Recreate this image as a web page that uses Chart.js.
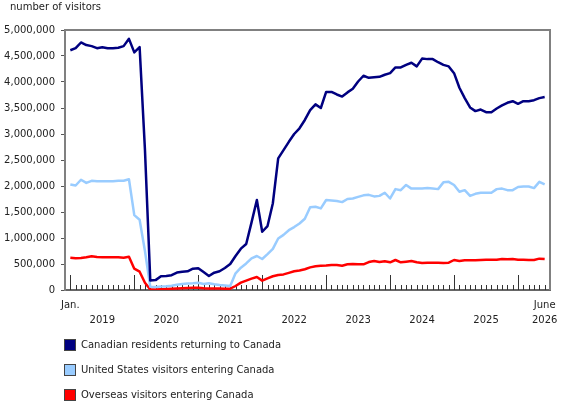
<!DOCTYPE html>
<html>
<head>
<meta charset="utf-8">
<script src="https://cdn.jsdelivr.net/npm/chart.js@4.4.1/dist/chart.umd.min.js"></script>
<style>
  body { margin: 0; background: #fff; }
  #wrap { width: 580px; height: 410px; }
</style>
</head>
<body>
<div id="wrap"><canvas id="myChart"></canvas></div>
<script>
// monthly, Jan. 2019 to June 2026
let months = [];
for (let y = 2019; y <= 2026; y++) {
    ['Jan', 'Feb', 'Mar', 'Apr', 'May', 'Jun', 'Jul', 'Aug', 'Sep', 'Oct', 'Nov', 'Dec'].forEach(m => months.push(m + ' ' + y));
}
months = months.slice(0, 90);

let canadians = [
    4610000, 4650000, 4760000, 4710000, 4690000, 4650000, 4670000, 4650000, 4650000, 4660000, 4690000, 4830000,
    4570000, 4670000, 2700000, 185000, 190000, 265000, 270000, 285000, 335000, 350000, 360000, 410000,
    420000, 346000, 270000, 333000, 360000, 423000, 500000, 654000, 795000, 885000, 1300000, 1730000,
    1120000, 1230000, 1670000, 2530000, 2690000, 2850000, 3000000, 3110000, 3270000, 3460000, 3570000, 3500000,
    3810000, 3810000, 3760000, 3720000, 3800000, 3870000, 4010000, 4120000, 4080000, 4090000, 4100000, 4140000,
    4170000, 4280000, 4280000, 4330000, 4370000, 4300000, 4450000, 4440000, 4440000, 4380000, 4330000, 4300000,
    4170000, 3890000, 3690000, 3510000, 3440000, 3470000, 3420000, 3420000, 3490000, 3550000, 3600000, 3630000,
    3580000, 3630000, 3630000, 3650000, 3690000, 3710000
];
let usVisitors = [
    2030000, 2010000, 2120000, 2060000, 2100000, 2090000, 2090000, 2090000, 2090000, 2100000, 2100000, 2130000,
    1440000, 1350000, 750000, 63000, 60000, 65000, 70000, 80000, 100000, 115000, 125000, 130000,
    140000, 115000, 128000, 110000, 95000, 88000, 77000, 321000, 430000, 510000, 610000, 654000,
    596000, 690000, 790000, 990000, 1060000, 1150000, 1210000, 1280000, 1370000, 1590000, 1600000, 1570000,
    1730000, 1720000, 1710000, 1690000, 1750000, 1760000, 1790000, 1820000, 1830000, 1800000, 1810000, 1870000,
    1760000, 1940000, 1920000, 2020000, 1950000, 1950000, 1950000, 1960000, 1950000, 1940000, 2070000, 2080000,
    2020000, 1890000, 1920000, 1810000, 1850000, 1870000, 1870000, 1870000, 1940000, 1950000, 1920000, 1920000,
    1980000, 1990000, 1990000, 1960000, 2080000, 2030000
];
let overseas = [
    620000, 610000, 615000, 630000, 650000, 635000, 632000, 632000, 632000, 628000, 622000, 640000,
    410000, 352000, 140000, 10000, 12000, 15000, 20000, 25000, 30000, 35000, 40000, 45000,
    45000, 35000, 30000, 30000, 28000, 25000, 26000, 77000, 141000, 180000, 218000, 250000,
    180000, 225000, 265000, 290000, 300000, 330000, 360000, 375000, 400000, 435000, 455000, 465000,
    470000, 481000, 481000, 468000, 494000, 500000, 497000, 494000, 538000, 558000, 538000, 551000,
    532000, 577000, 532000, 545000, 558000, 532000, 519000, 526000, 526000, 526000, 519000, 526000,
    577000, 558000, 570000, 570000, 570000, 577000, 583000, 583000, 583000, 596000, 590000, 596000,
    583000, 583000, 577000, 577000, 603000, 596000
];

// x-axis labels: month index -> two lines of text
let tickPos = [0, 6, 18, 30, 42, 54, 66, 78, 89];
let tickText = [['Jan.', ''], ['', '2019'], ['', '2020'], ['', '2021'], ['', '2022'],
                ['', '2023'], ['', '2024'], ['', '2025'], ['June', '2026']];

let seriesNames = ['Canadian residents returning to Canada', 'United States visitors entering Canada', 'Overseas visitors entering Canada'];
let seriesColors = ['#000080', '#99ccff', '#ff0000'];

function points(arr) {
    return arr.map((v, i) => ({x: i, y: v}));
}

Chart.defaults.font.family = 'DejaVu Sans';
Chart.defaults.font.size = 10;
Chart.defaults.color = '#222';

// frame, inward month ticks, title and legend
const decor = {
    id: 'decor',
    beforeDatasetsDraw(chart) {
        const {ctx, chartArea: a, scales: {x}} = chart;
        ctx.save();
        ctx.strokeStyle = '#808080';
        ctx.lineWidth = 2;
        ctx.beginPath();
        ctx.moveTo(a.left, a.top);
        ctx.lineTo(a.right, a.top);
        ctx.lineTo(a.right, a.bottom);
        ctx.stroke();

        ctx.strokeStyle = '#333';
        ctx.lineWidth = 1;
        months.forEach((m, i) => {
            const px = Math.round(x.getPixelForValue(i)) + 0.5;
            const len = m.startsWith('Jan') ? 15 : 5;
            ctx.beginPath();
            ctx.moveTo(px, a.bottom);
            ctx.lineTo(px, a.bottom - len);
            ctx.stroke();
        });
        ctx.restore();
    },
    afterDraw(chart) {
        const ctx = chart.ctx;
        ctx.save();
        ctx.font = '10px "DejaVu Sans"';
        ctx.fillStyle = '#222';
        ctx.textBaseline = 'middle';
        ctx.textAlign = 'left';
        ctx.fillText('number of visitors', 10, 7);

        chart.data.datasets.forEach((ds, i) => {
            const cy = 345 + i * 25;
            ctx.fillStyle = ds.borderColor;
            ctx.fillRect(64, cy - 6, 12, 12);
            ctx.strokeStyle = '#444';
            ctx.lineWidth = 1;
            ctx.strokeRect(64.5, cy - 5.5, 11, 11);
            ctx.fillStyle = '#222';
            ctx.fillText(ds.label, 81, cy);
        });
        ctx.restore();
    }
};

new Chart(document.getElementById('myChart'), {
    type: 'line',
    data: {
        datasets: [
            { label: seriesNames[0], data: points(canadians), borderColor: seriesColors[0], backgroundColor: seriesColors[0] },
            { label: seriesNames[1], data: points(usVisitors), borderColor: seriesColors[1], backgroundColor: seriesColors[1] },
            { label: seriesNames[2], data: points(overseas), borderColor: seriesColors[2], backgroundColor: seriesColors[2] }
        ]
    },
    options: {
        responsive: true,
        maintainAspectRatio: false,
        animation: false,
        layout: { padding: { top: 30, right: 30, left: 0, bottom: 0 } },
        elements: {
            line: { borderWidth: 2.5, tension: 0, borderJoinStyle: 'round' },
            point: { radius: 0 }
        },
        plugins: {
            legend: { display: false },
            title: { display: false },
            tooltip: { enabled: false }
        },
        scales: {
            x: {
                type: 'linear',
                min: -1,
                max: 90,
                afterBuildTicks: scale => { scale.ticks = tickPos.map(v => ({value: v})); },
                afterFit: scale => { scale.height = 120; },
                grid: { display: false, drawTicks: false },
                border: { display: true, color: '#666', width: 2 },
                ticks: {
                    autoSkip: false,
                    maxRotation: 0,
                    padding: 8,
                    font: { size: 10, lineHeight: 1.5 },
                    callback: (value) => {
                        const k = tickPos.indexOf(value);
                        return k >= 0 ? tickText[k] : '';
                    }
                }
            },
            y: {
                min: 0,
                max: 5000000,
                afterFit: scale => { scale.width = 65; },
                grid: { display: true, drawOnChartArea: false, drawTicks: true, tickLength: 4, tickColor: '#555' },
                border: { display: true, color: '#808080', width: 2 },
                ticks: {
                    stepSize: 500000,
                    padding: 6,
                    callback: v => v.toLocaleString('en-US')
                }
            }
        }
    },
    plugins: [decor]
});
</script>
</body>
</html>
